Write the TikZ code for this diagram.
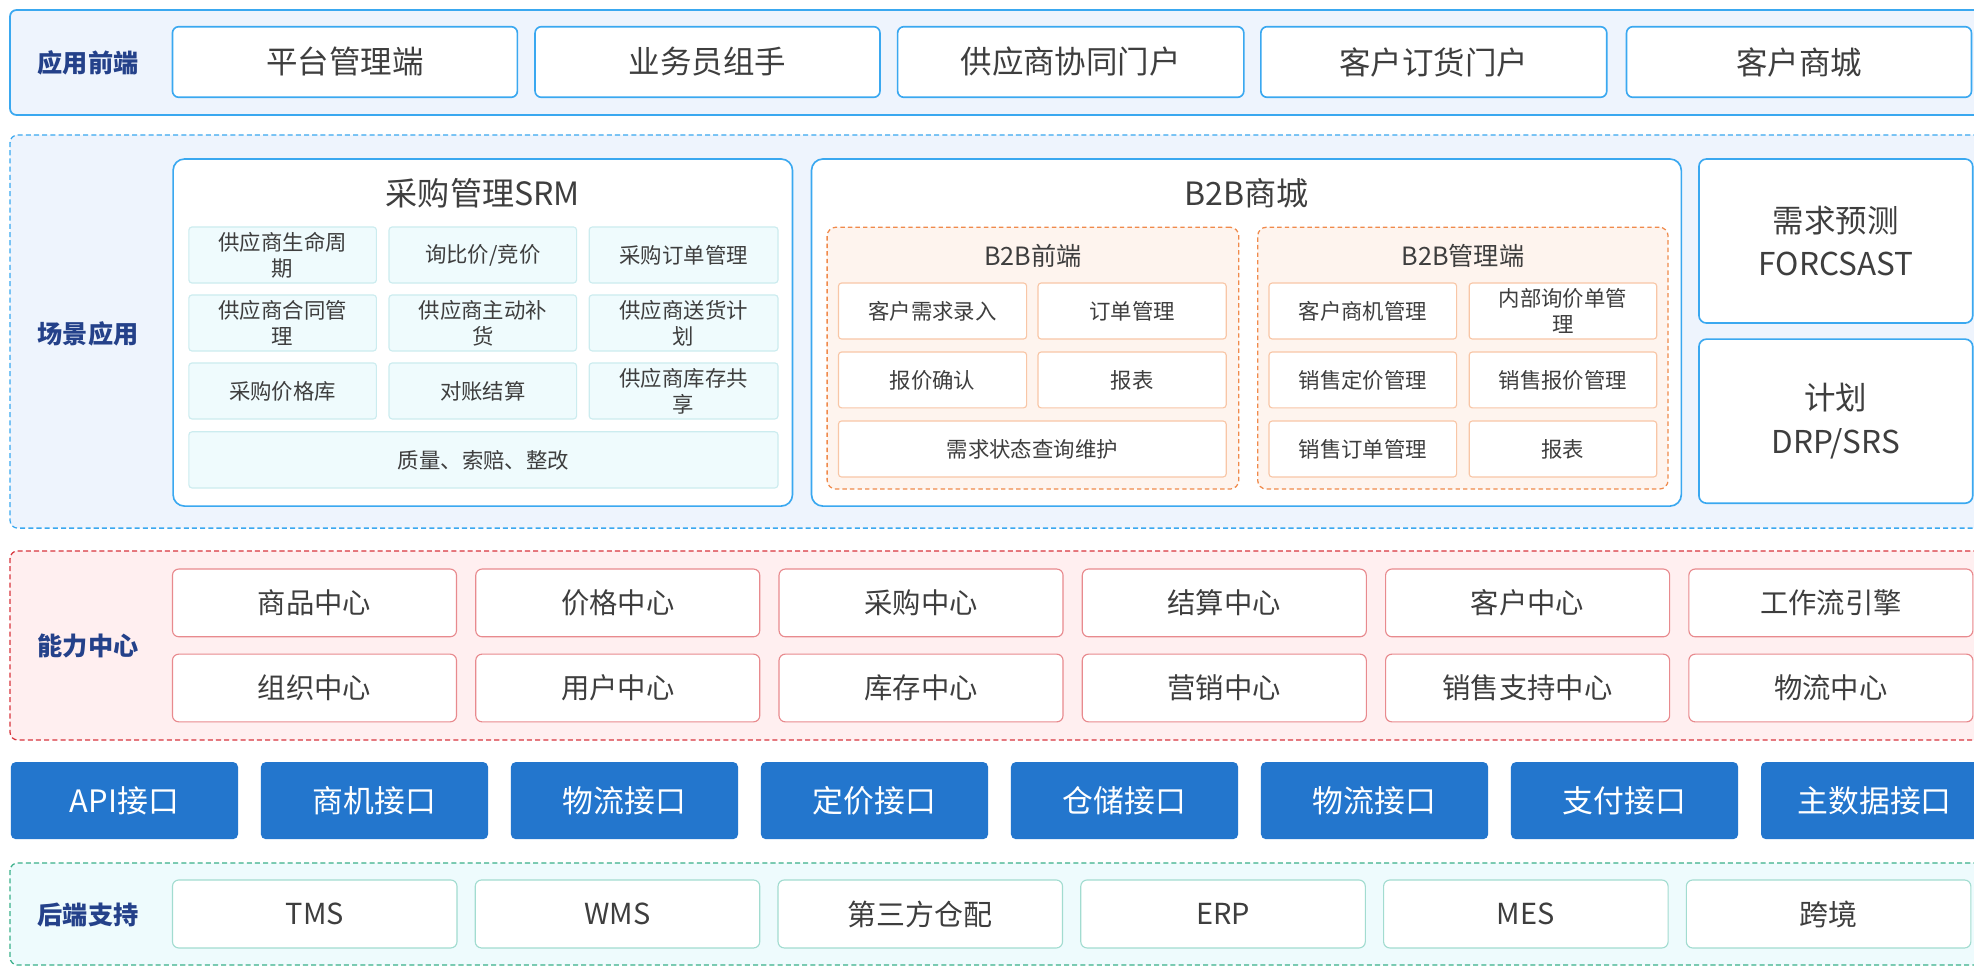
\documentclass[tikz,border=0pt]{standalone}
\usepackage{fontspec}
\setmainfont{Noto Sans CJK SC}
\definecolor{txt}{HTML}{3E3E3E}
\definecolor{lbl}{HTML}{24418A}
\definecolor{bgblue}{HTML}{EEF4FD}
\definecolor{lineblue}{HTML}{3AA8F0}
\definecolor{itemfill}{HTML}{EFFBFD}
\definecolor{itemline}{HTML}{CCECEF}
\definecolor{orgline}{HTML}{F08A4B}
\definecolor{orgfill}{HTML}{FEF4EE}
\definecolor{orgitem}{HTML}{F8C6A6}
\definecolor{redline}{HTML}{D8353D}
\definecolor{redfill}{HTML}{FFEFF0}
\definecolor{reditem}{HTML}{E88A8E}
\definecolor{apiblue}{HTML}{2376CD}
\definecolor{grnline}{HTML}{3AB08A}
\definecolor{grnfill}{HTML}{EEFBFD}
\definecolor{grnitem}{HTML}{A2DCD0}
\newcommand\bx[7]{%
 \pgfmathsetmacro\bxw{#5-#3}\pgfmathsetmacro\bxh{#6-#4}%
 \pgfmathsetmacro\bxx{(#3+#5)/2}\pgfmathsetmacro\bxy{(#4+#6)/2}%
 \node[#1,minimum width=\bxw pt,minimum height=\bxh pt] (#2) at (\bxx,\bxy) {#7};}
\begin{document}
\begin{tikzpicture}[x=1pt,y=-1pt,
  base/.style={rectangle,inner sep=0pt,outer sep=0pt,align=center,text=txt},
  rowsolid/.style={base,draw=lineblue,fill=bgblue,line width=1.4pt,rounded corners=5pt},
  rowblue/.style={base,draw=lineblue,fill=bgblue,line width=1pt,dash pattern=on 4pt off 2.5pt,rounded corners=6pt},
  rowred/.style={base,draw=redline,fill=redfill,line width=1pt,dash pattern=on 4pt off 2.5pt,rounded corners=6pt},
  rowgrn/.style={base,draw=grnline,fill=grnfill,line width=1pt,dash pattern=on 4pt off 2.5pt,rounded corners=6pt},
  lab/.style={base,text=lbl,font=\bfseries\fontsize{20}{24}\selectfont},
  topbox/.style={base,draw=lineblue,fill=white,line width=1.3pt,rounded corners=5pt,font=\fontsize{25}{30}\selectfont},
  bigbox/.style={base,draw=lineblue,fill=white,line width=1.3pt,rounded corners=9pt},
  sidebox/.style={base,draw=lineblue,fill=white,line width=1.3pt,rounded corners=6pt,font=\fontsize{25}{34.6}\selectfont},
  bigtitle/.style={base,font=\fontsize{25.5}{30}\selectfont},
  srmitem/.style={base,draw=itemline,fill=itemfill,line width=0.9pt,rounded corners=2.5pt,font=\fontsize{17}{20.5}\selectfont},
  orggroup/.style={base,draw=orgline,fill=orgfill,line width=1pt,dash pattern=on 3.5pt off 2.5pt,rounded corners=7pt},
  orgtitle/.style={base,font=\fontsize{20}{24}\selectfont},
  b2bitem/.style={base,draw=orgitem,fill=white,line width=0.9pt,rounded corners=2.5pt,font=\fontsize{17}{20.5}\selectfont},
  capbox/.style={base,draw=reditem,fill=white,line width=0.9pt,rounded corners=5pt,font=\fontsize{22.5}{27}\selectfont},
  apibox/.style={base,fill=apiblue,text=white,rounded corners=4pt,font=\fontsize{24.5}{29}\selectfont},
  backbox/.style={base,draw=grnitem,fill=white,line width=0.9pt,rounded corners=5pt,font=\fontsize{23}{27}\selectfont}]
\fill[white] (0,0) rectangle (1568,767.3);
\clip (0,0) rectangle (1568,767.3);

% ---------- row 1 ----------
\bx{rowsolid}{rowA}{8}{8}{1610}{91.3}{}
\node[lab] (labA) at (70,50) {应用前端};
\bx{topbox}{t1}{137}{21.2}{411}{77.3}{平台管理端}
\bx{topbox}{t2}{425}{21.2}{699}{77.3}{业务员组手}
\bx{topbox}{t3}{713}{21.2}{988}{77.3}{供应商协同门户}
\bx{topbox}{t4}{1001.5}{21.2}{1276.3}{77.3}{客户订货门户}
\bx{topbox}{t5}{1292}{21.2}{1566}{77.3}{客户商城}

% ---------- row 2 ----------
\bx{rowblue}{rowB}{8}{107.2}{1610}{419.5}{}
\node[lab] (labB) at (70,265) {场景应用};
\bx{bigbox}{srm}{137.5}{126.3}{629.5}{402}{}
\node[bigtitle] (srmT) at (383.5,153.5) {采购管理SRM};
\bx{srmitem}{s11}{150}{180.3}{299}{224.8}{供应商生命周\\期}
\bx{srmitem}{s12}{309}{180.3}{458}{224.8}{询比价/竞价}
\bx{srmitem}{s13}{468}{180.3}{618}{224.8}{采购订单管理}
\bx{srmitem}{s21}{150}{234.3}{299}{278.8}{供应商合同管\\理}
\bx{srmitem}{s22}{309}{234.3}{458}{278.8}{供应商主动补\\货}
\bx{srmitem}{s23}{468}{234.3}{618}{278.8}{供应商送货计\\划}
\bx{srmitem}{s31}{150}{288.3}{299}{332.8}{采购价格库}
\bx{srmitem}{s32}{309}{288.3}{458}{332.8}{对账结算}
\bx{srmitem}{s33}{468}{288.3}{618}{332.8}{供应商库存共\\享}
\bx{srmitem}{s41}{150}{343}{618}{387.6}{质量、索赔、整改}

\bx{bigbox}{b2b}{644.6}{126.3}{1335.5}{402}{}
\node[bigtitle] (b2bT) at (990,153.5) {B2B商城};
\bx{orggroup}{gf}{657}{180.5}{984}{388.5}{}
\node[orgtitle] (gfT) at (820.5,203.4) {B2B前端};
\bx{b2bitem}{f11}{666}{224.8}{815.5}{269.3}{客户需求录入}
\bx{b2bitem}{f12}{824.5}{224.8}{974}{269.3}{订单管理}
\bx{b2bitem}{f21}{666}{279.6}{815.5}{324}{报价确认}
\bx{b2bitem}{f22}{824.5}{279.6}{974}{324}{报表}
\bx{b2bitem}{f31}{666}{334.4}{974}{378.9}{需求状态查询维护}
\bx{orggroup}{gm}{999}{180.5}{1325}{388.5}{}
\node[orgtitle] (gmT) at (1162,203.4) {B2B管理端};
\bx{b2bitem}{m11}{1008}{224.8}{1157}{269.3}{客户商机管理}
\bx{b2bitem}{m12}{1167}{224.8}{1316}{269.3}{内部询价单管\\理}
\bx{b2bitem}{m21}{1008}{279.6}{1157}{324}{销售定价管理}
\bx{b2bitem}{m22}{1167}{279.6}{1316}{324}{销售报价管理}
\bx{b2bitem}{m31}{1008}{334.4}{1157}{378.9}{销售订单管理}
\bx{b2bitem}{m32}{1167}{334.4}{1316}{378.9}{报表}

\bx{sidebox}{fc}{1349.5}{126.3}{1567}{256.6}{需求预测\\FORCSAST}
\bx{sidebox}{pl}{1349.5}{269.4}{1567}{399.7}{计划\\DRP/SRS}

% ---------- row 3 ----------
\bx{rowred}{rowC}{8}{437.6}{1610}{587.8}{}
\node[lab] (labC) at (70,513.5) {能力中心};
\foreach \t [count=\i from 0] in {商品中心,价格中心,采购中心,结算中心,客户中心,工作流引擎}{
  \pgfmathsetmacro\xa{137+240.9*\i}\pgfmathsetmacro\xb{\xa+225.6}
  \bx{capbox}{ca\i}{\xa}{452}{\xb}{505.8}{\t}}
\foreach \t [count=\i from 0] in {组织中心,用户中心,库存中心,营销中心,销售支持中心,物流中心}{
  \pgfmathsetmacro\xa{137+240.9*\i}\pgfmathsetmacro\xb{\xa+225.6}
  \bx{capbox}{cb\i}{\xa}{519.6}{\xb}{573.4}{\t}}

% ---------- row 4 ----------
\foreach \t [count=\i from 0] in {API接口,商机接口,物流接口,定价接口,仓储接口,物流接口,支付接口,主数据接口}{
  \pgfmathsetmacro\xa{8.6+198.6*\i}\pgfmathsetmacro\xb{\xa+180.5}
  \bx{apibox}{api\i}{\xa}{605.3}{\xb}{666.6}{\t}}

% ---------- row 5 ----------
\bx{rowgrn}{rowE}{8}{685.5}{1610}{766.6}{}
\node[lab] (labE) at (70,727) {后端支持};
\foreach \t [count=\i from 0] in {TMS,WMS,第三方仓配,ERP,MES,跨境}{
  \pgfmathsetmacro\xa{137+240.5*\i}\pgfmathsetmacro\xb{\xa+226}
  \bx{backbox}{be\i}{\xa}{699}{\xb}{753}{\t}}
\end{tikzpicture}
\end{document}
